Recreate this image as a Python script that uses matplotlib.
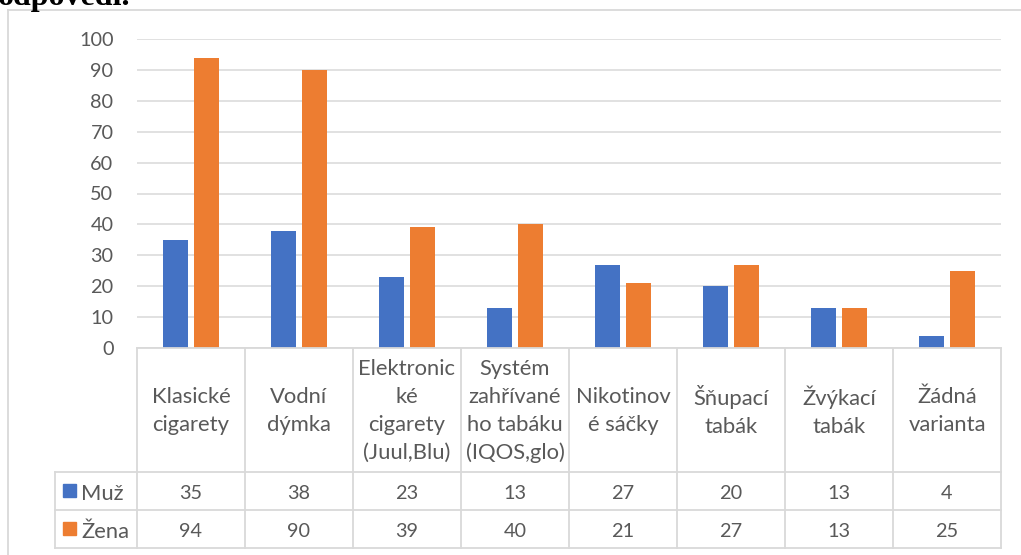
import numpy as np
import matplotlib.pyplot as plt
from matplotlib import transforms
from matplotlib.patches import Rectangle

# === Data ===
categories = ["Klasické\ncigarety", "Vodní\ndýmka",
              "Elektronic\nké\ncigarety\n(Juul,Blu)",
              "Systém\nzahřívané\nho tabáku\n(IQOS,glo)",
              "Nikotinov\né sáčky", "Šňupací\ntabák",
              "Žvýkací\ntabák", "Žádná\nvarianta"]
muz = [35, 38, 23, 13, 27, 20, 13, 4]
zena = [94, 90, 39, 40, 21, 27, 13, 25]
series_names = ["Muž", "Žena"]
yticks = [0, 10, 20, 30, 40, 50, 60, 70, 80, 90, 100]

# === Style ===
BLUE = "#4472C4"
ORANGE = "#ED7D31"
GRID = "#D9D9D9"
TEXT = "#595959"
FS_NUM = 14.3     # digits (axis + table values)
FS_TXT = 15.8     # words (categories + series names)

plt.rcParams['font.family'] = ['Lato', 'DejaVu Sans']

W, H = 1021, 555
fig = plt.figure(figsize=(W / 100, H / 100), dpi=100)

# plot area, in pixels from the top-left corner
L, R, T, B = 137, 1001, 39, 348
ax = fig.add_axes([L / W, 1 - B / H, (R - L) / W, (B - T) / H])

x = np.arange(len(categories))
ax.bar(x - 0.143, muz, width=0.225, color=BLUE, zorder=3)
ax.bar(x + 0.143, zena, width=0.225, color=ORANGE, zorder=3)
ax.set_xlim(-0.5, len(categories) - 0.5)
ax.set_ylim(0, 100)
ax.set_yticks(yticks)
ax.set_xticks([])
ax.grid(axis='y', color=GRID, lw=1.1)
ax.set_axisbelow(True)
ax.tick_params(axis='y', length=0, pad=17, labelsize=FS_NUM, labelcolor=TEXT)
for s in ax.spines.values():
    s.set_visible(False)

# === Data table below the bars ===
def fy(p):
    return 1 - p / H

trans = transforms.blended_transform_factory(ax.transData, fig.transFigure)
cw = (R - L) / len(categories)
x0 = -0.5 - (L - 55) / cw
xe = len(categories) - 0.5
row_top, row1, row2, row_bot = 348, 472, 510, 548
line_kw = dict(color=GRID, lw=1.3, transform=trans, clip_on=False, zorder=4)

ax.plot([-0.5, xe], [fy(row_top)] * 2, **line_kw)
for yy in (row1, row2, row_bot):
    ax.plot([x0, xe], [fy(yy)] * 2, **line_kw)
for i in range(len(categories) + 1):
    ax.plot([i - 0.5] * 2, [fy(row_top), fy(row_bot)], **line_kw)
ax.plot([x0] * 2, [fy(row1), fy(row_bot)], **line_kw)

for i, cat in enumerate(categories):
    ax.text(i, fy(411), cat, transform=trans, ha='center', va='center',
            multialignment='center', linespacing=1.5, fontsize=FS_TXT, color=TEXT)
    ax.text(i, fy(492), str(muz[i]), transform=trans, ha='center',
            va='center_baseline', fontsize=FS_NUM, color=TEXT)
    ax.text(i, fy(530), str(zena[i]), transform=trans, ha='center',
            va='center_baseline', fontsize=FS_NUM, color=TEXT)

# overlay in pixel coordinates for legend keys, frame and heading
ov = fig.add_axes([0, 0, 1, 1], zorder=-1)
ov.set_xlim(0, W)
ov.set_ylim(H, 0)
ov.axis('off')
ov.patch.set_alpha(0)

for name, col, yc in zip(series_names, [BLUE, ORANGE], [491, 529]):
    ov.add_patch(Rectangle((63, yc - 7), 13, 13, color=col))
    ov.text(81, yc + 1, name, ha='left', va='center_baseline',
            fontsize=FS_TXT, color=TEXT)

ov.plot([8, 8], [H, 10], color=GRID, lw=1.3)
ov.plot([8, W], [10, 10], color=GRID, lw=1.3)

ov.text(-2, 5.5, "odpovědi.", family=['Liberation Serif', 'DejaVu Serif'],
        fontweight='bold', fontsize=23, va='baseline', ha='left', color='black')

fig.savefig("out.png", dpi=100)
